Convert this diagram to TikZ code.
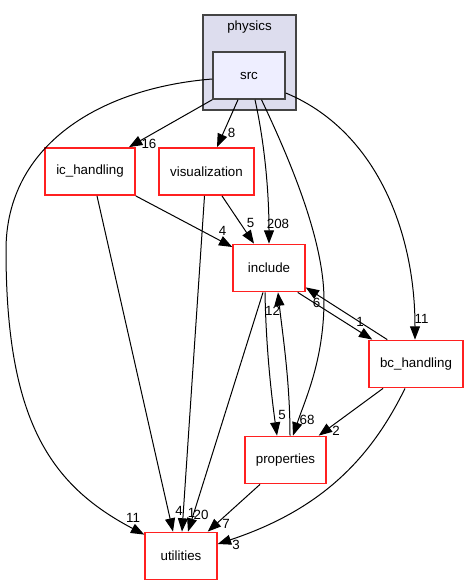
\documentclass[tikz,border=0pt]{standalone}
\usepackage{fontspec}
\setmainfont{Liberation Sans}
\usetikzlibrary{arrows.meta,calc}
\definecolor{clusterfill}{HTML}{DDDDEE}
\definecolor{srcfill}{HTML}{EEEEFF}
\definecolor{darkborder}{HTML}{444444}
\definecolor{dirred}{HTML}{FF2020}
\begin{document}
\begin{tikzpicture}[x=0.75pt,y=-0.75pt,
  every node/.style={font=\fontsize{10}{12}\selectfont},
  dirbox/.style={draw=dirred, fill=white, line width=1.1pt, minimum height=35.5pt, inner sep=0pt},
  srcbox/.style={draw=darkborder, fill=srcfill, line width=1.1pt, minimum height=35.25pt, minimum width=54pt, inner sep=0pt},
  clusterbox/.style={draw=darkborder, fill=clusterfill, line width=1.1pt, minimum width=69.75pt, minimum height=71.25pt, inner sep=0pt},
  edge/.style={draw=black, line width=0.75pt, -{Triangle[length=10pt,width=7.5pt]}},
  lbl/.style={inner sep=0pt}]
\path[use as bounding box] (0,0) rectangle (468,585);

% cluster
\node[clusterbox] (physics) at (249.5,62.5) {};
\node[lbl] (physicslabel) at (249.5,27) {physics};
\node[srcbox] (src) at (249,75.5) {src};

% directory nodes
\node[dirbox, minimum width=67.5pt] (ic) at (90,171.5) {ic\_handling};
\node[dirbox, minimum width=71.25pt] (vis) at (206.5,171.5) {visualization};
\node[dirbox, minimum width=54pt] (inc) at (269,268) {include};
\node[dirbox, minimum width=70.5pt] (bc) at (416,364) {bc\_handling};
\node[dirbox, minimum width=60.75pt] (prop) at (285.5,460) {properties};
\node[dirbox, minimum width=54pt] (util) at (181,556) {utilities};

% edges from src
\draw[edge] (src.south west) -- ($(ic.north)+(39,0)$);
\draw[edge] ($(src.south)+(-11,0)$) -- ($(vis.north)+(10.5,0)$);
\draw[edge] ($(src.south)+(6,0)$) .. controls +(11,50) and +(0,-44) .. (inc.north);
\draw[edge] ($(src.south)+(12.5,0)$) .. controls (290,160) and (324,240) .. (324,300)
   .. controls (324,360) and (305,400) .. ($(prop.north)+(7.5,0)$);
\draw[edge] ($(src.east)+(0,17.5)$) .. controls (375,130) and (415,230) .. ($(bc.north)+(-1,0)$);
\draw[edge] ($(src.west)+(0,3.5)$) .. controls (100,88) and (6,145) .. (6,250)
   .. controls (6,420) and (50,485) .. ($(util.north west)+(0,3)$);

% other edges
\draw[edge] (ic.south east) -- ($(inc.west)+(0,-21)$);
\draw[edge] ($(ic.south)+(7,0)$) -- ($(util.north)+(-8,0)$);
\draw[edge] ($(vis.south)+(15.5,0)$) -- ($(inc.north)+(-15,0)$);
\draw[edge] ($(vis.south)+(-2,0)$) -- ($(util.north)+(1,0)$);
\draw[edge] ($(inc.south)+(-6,0)$) -- ($(util.north)+(7,0)$);
\draw[edge] ($(inc.south)+(-4,0)$) .. controls +(1,58) and +(-5,-36) .. ($(prop.north)+(-8.5,0)$);
\draw[edge] ($(prop.north)+(4.5,0)$) .. controls +(0,-56) and +(4,38) .. ($(inc.south)+(9,0)$);
\draw[edge] ($(inc.south east)+(-8,0)$) -- ($(bc.north west)+(4,0)$);
\draw[edge] ($(bc.north west)+(19,0)$) -- ($(inc.south east)+(0,-5)$);
\draw[edge] ($(bc.south)+(-33,0)$) -- ($(prop.north east)+(-8,0)$);
\draw[edge] ($(bc.south)+(-11,0)$) .. controls (370,460) and (320,510) .. ($(util.east)+(0,-12)$);
\draw[edge] ($(prop.south)+(-25.5,0)$) -- ($(util.north east)+(-10,0)$);

% edge labels
\node[lbl] (l16) at (149,144) {16};
\node[lbl] (l8) at (231.5,133) {8};
\node[lbl] (l208) at (278,224) {208};
\node[lbl] (l68) at (307,420) {68};
\node[lbl] (l11b) at (421.5,319) {11};
\node[lbl] (l11u) at (133,518) {11};
\node[lbl] (l4a) at (222.5,231) {4};
\node[lbl] (l4u) at (179,511) {4};
\node[lbl] (l1u) at (191.5,513) {1};
\node[lbl] (l20) at (201,515) {20};
\node[lbl] (l5a) at (250.5,223) {5};
\node[lbl] (l5b) at (282,415) {5};
\node[lbl] (l12) at (272.5,311) {12};
\node[lbl] (l1b) at (360,322) {1};
\node[lbl] (l6) at (316.5,303) {6};
\node[lbl] (l2) at (336,431) {2};
\node[lbl] (l3) at (236,545) {3};
\node[lbl] (l7) at (226,524) {7};
\end{tikzpicture}
\end{document}
